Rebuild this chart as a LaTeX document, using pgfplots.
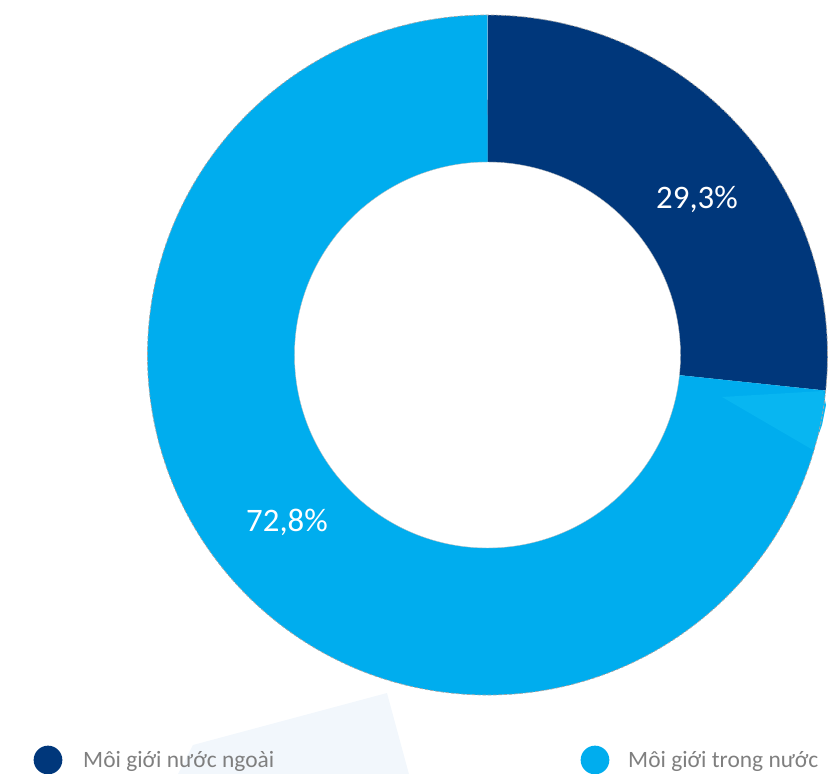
\documentclass[border=0pt]{standalone}
\usepackage{pgfplots}
\pgfplotsset{compat=1.18}
\usepackage{fontspec}
\setmainfont{Carlito}
\definecolor{navy}{HTML}{00377B}
\definecolor{sky}{HTML}{00ADEE}
\definecolor{skylite}{HTML}{08B6F1}
\definecolor{pale}{HTML}{F2F7FC}
\definecolor{leggray}{HTML}{7F7F7F}

% geometry (pixel units, y upwards)
\def\cx{487.5}
\def\cy{418}
\def\ro{340}
\def\ri{193}
\def\rocm{10.2cm}
\def\ricm{5.79cm}
% sector boundary angle (dark: 90 -> -6 clockwise)
\def\split{-6}

\newcommand{\ring}[3]{%
  \fill[#1] (axis cs:{\cx+\ro*cos(#2)},{\cy+\ro*sin(#2)})
    arc[start angle=#2,end angle=#3,radius=\rocm]
    -- (axis cs:{\cx+\ri*cos(#3)},{\cy+\ri*sin(#3)})
    arc[start angle=#3,end angle=#2,radius=\ricm] -- cycle;}

\begin{document}
\begin{tikzpicture}
\begin{axis}[
  x=0.03cm, y=0.03cm,
  xmin=0, xmax=829, ymin=0, ymax=773,
  hide axis, clip=false, scale only axis
]
  % faint background shape
  \fill[pale] (axis cs:193,28) -- (axis cs:387,80) -- (axis cs:410,-5)
    -- (axis cs:176,-5) -- cycle;

  \ring{navy}{90}{\split}
  \ring{sky}{\split}{-270}
  \fill[skylite] (axis cs:722,376) -- (axis cs:823,382) -- (axis cs:826,368)
    -- (axis cs:822,348) -- (axis cs:813,323) -- cycle;

  \draw[black!35, dash pattern=on 3pt off 1.5pt, line width=0.6pt]
    (axis cs:\cx,\cy) circle[radius=\rocm];
  \draw[black!25, line width=0.3pt] (axis cs:\cx,\cy) circle[radius=\ricm];

  \node[text=white, font=\fontsize{28}{30}\selectfont] at (axis cs:697,574) {29,3\%};
  \node[text=white, font=\fontsize{28}{30}\selectfont] at (axis cs:287,251) {72,8\%};

  \fill[navy] (axis cs:48,13) circle[radius=0.43cm];
  \node[anchor=base west, inner sep=0, text=leggray, font=\fontsize{20}{22}\selectfont]
    at (axis cs:83,6) {Môi giới nước ngoài};
  \fill[sky] (axis cs:595,13) circle[radius=0.43cm];
  \node[anchor=base west, inner sep=0, text=leggray, font=\fontsize{20}{22}\selectfont]
    at (axis cs:628,6) {Môi giới trong nước};
\end{axis}
\pgfresetboundingbox
\useasboundingbox (current axis.south west) rectangle (current axis.north east);
\end{tikzpicture}
\end{document}
